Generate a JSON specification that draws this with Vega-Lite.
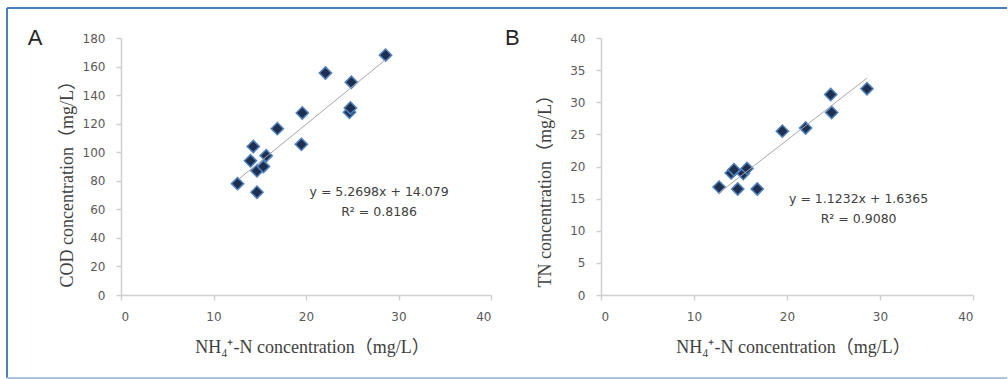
{
  "$schema": "https://vega.github.io/schema/vega-lite/v6.json",
  "padding": {"left": 6, "top": 7, "right": 0, "bottom": 0},
  "background": "white",
  "bounds": "flush",
  "spacing": 110,
  "config": {
    "view": {"stroke": null},
    "axis": {
      "grid": false,
      "labelOverlap": false,
      "tickCount": 20,
      "domainColor": "#d0d0d0",
      "domainWidth": 1.5,
      "tickColor": "#d0d0d0",
      "tickWidth": 1.5,
      "tickSize": 5,
      "labelColor": "#595959",
      "labelFont": "DejaVu Sans",
      "labelFontSize": 12,
      "labelPadding": 11,
      "titleFont": "Liberation Serif, Noto Sans CJK SC",
      "titleFontSize": 18,
      "titleFontWeight": "normal",
      "titleColor": "#404040"
    }
  },
  "datasets": {
    "cod": [
      {"nh4": 12.6, "cod": 78},
      {"nh4": 14.7, "cod": 72},
      {"nh4": 14.3, "cod": 104},
      {"nh4": 14.0, "cod": 94},
      {"nh4": 14.7, "cod": 87},
      {"nh4": 15.4, "cod": 90},
      {"nh4": 15.7, "cod": 97.6},
      {"nh4": 16.9, "cod": 116.5},
      {"nh4": 19.6, "cod": 127.5},
      {"nh4": 19.5, "cod": 105.5},
      {"nh4": 22.1, "cod": 155.5},
      {"nh4": 24.9, "cod": 149},
      {"nh4": 24.7, "cod": 128},
      {"nh4": 24.8, "cod": 131},
      {"nh4": 28.6, "cod": 168}
    ],
    "codFit": [
      {"nh4": 12.7, "cod": 81.0},
      {"nh4": 28.6, "cod": 164.8}
    ],
    "tn": [
      {"nh4": 12.7, "tn": 16.8},
      {"nh4": 14.7, "tn": 16.5},
      {"nh4": 14.0, "tn": 19.0},
      {"nh4": 14.3, "tn": 19.5},
      {"nh4": 15.3, "tn": 18.9},
      {"nh4": 15.7, "tn": 19.7},
      {"nh4": 16.8, "tn": 16.5},
      {"nh4": 19.5, "tn": 25.5},
      {"nh4": 22.0, "tn": 26.0},
      {"nh4": 24.8, "tn": 28.4},
      {"nh4": 24.7, "tn": 31.2},
      {"nh4": 28.6, "tn": 32.1}
    ],
    "tnFit": [
      {"nh4": 12.7, "tn": 15.9},
      {"nh4": 28.6, "tn": 33.76}
    ],
    "one": [{}]
  },
  "hconcat": [
    {
      "width": 370,
      "height": 257,
      "layer": [
        {
          "data": {"name": "cod"},
          "mark": {"type": "point", "shape": "diamond", "filled": true, "size": 150, "fill": "#1f2f4f", "stroke": "#4f81bd", "strokeWidth": 1.5, "opacity": 1},
          "encoding": {
            "x": {"field": "nh4", "type": "quantitative", "scale": {"domain": [0, 40], "nice": false},
                  "axis": {"values": [0, 10, 20, 30, 40], "tickCount": 20, "title": "NH₄⁺-N concentration（mg/L）", "titleX": 191, "titleY": 52, "titleAnchor": "middle", "titleBaseline": "middle"}},
            "y": {"field": "cod", "type": "quantitative", "scale": {"domain": [0, 180], "nice": false},
                  "axis": {"values": [0, 20, 40, 60, 80, 100, 120, 140, 160, 180], "tickCount": 20, "title": "COD concentration（mg/L）", "titleX": -54, "titleY": 249, "titleAnchor": "start", "titleBaseline": "middle", "titleAngle": -90}}
          }
        },
        {
          "data": {"name": "codFit"},
          "mark": {"type": "line", "color": "#a6a6a6", "strokeWidth": 1},
          "encoding": {
            "x": {"field": "nh4", "type": "quantitative"},
            "y": {"field": "cod", "type": "quantitative"}
          }
        },
        {
          "data": {"name": "one"},
          "mark": {"type": "text", "font": "DejaVu Sans", "fontSize": 12.5, "color": "#404040", "align": "center", "baseline": "middle"},
          "encoding": {"x": {"datum": 27.9}, "y": {"datum": 72.1}, "text": {"value": "y = 5.2698x + 14.079"}}
        },
        {
          "data": {"name": "one"},
          "mark": {"type": "text", "font": "DejaVu Sans", "fontSize": 12.5, "color": "#404040", "align": "center", "baseline": "middle"},
          "encoding": {"x": {"datum": 27.9}, "y": {"datum": 58.1}, "text": {"value": "R² = 0.8186"}}
        },
        {
          "data": {"name": "one"},
          "mark": {"type": "text", "font": "Liberation Sans", "fontSize": 22, "color": "#262626", "align": "center", "baseline": "middle"},
          "encoding": {"x": {"datum": -9.3}, "y": {"datum": 180}, "text": {"value": "A"}}
        },
        {
          "data": {"name": "one"},
          "mark": {"type": "rule", "color": "#4a7ebb", "strokeWidth": 2},
          "encoding": {"x": {"datum": -12.32}, "y": {"datum": -58.1}, "y2": {"datum": 201}}
        },
        {
          "data": {"name": "one"},
          "mark": {"type": "rule", "color": "#4a7ebb", "strokeWidth": 2},
          "encoding": {"x": {"datum": -12.32}, "x2": {"datum": 95.8}, "y": {"datum": 201}}
        },
        {
          "data": {"name": "one"},
          "mark": {"type": "rule", "color": "#a8c3e8", "strokeWidth": 2},
          "encoding": {"x": {"datum": -12.32}, "x2": {"datum": 95.8}, "y": {"datum": -58.1}}
        }
      ]
    },
    {
      "width": 372,
      "height": 257,
      "layer": [
        {
          "data": {"name": "tn"},
          "mark": {"type": "point", "shape": "diamond", "filled": true, "size": 150, "fill": "#1f2f4f", "stroke": "#4f81bd", "strokeWidth": 1.5, "opacity": 1},
          "encoding": {
            "x": {"field": "nh4", "type": "quantitative", "scale": {"domain": [0, 40], "nice": false},
                  "axis": {"values": [0, 10, 20, 30, 40], "tickCount": 20, "title": "NH₄⁺-N concentration（mg/L）", "titleX": 192, "titleY": 52, "titleAnchor": "middle", "titleBaseline": "middle"}},
            "y": {"field": "tn", "type": "quantitative", "scale": {"domain": [0, 40], "nice": false},
                  "axis": {"values": [0, 5, 10, 15, 20, 25, 30, 35, 40], "tickCount": 20, "title": "TN concentration（mg/L）", "titleX": -56, "titleY": 249, "titleAnchor": "start", "titleBaseline": "middle", "titleAngle": -90}}
          }
        },
        {
          "data": {"name": "tnFit"},
          "mark": {"type": "line", "color": "#a6a6a6", "strokeWidth": 1},
          "encoding": {
            "x": {"field": "nh4", "type": "quantitative"},
            "y": {"field": "tn", "type": "quantitative"}
          }
        },
        {
          "data": {"name": "one"},
          "mark": {"type": "text", "font": "DejaVu Sans", "fontSize": 12.5, "color": "#404040", "align": "center", "baseline": "middle"},
          "encoding": {"x": {"datum": 27.7}, "y": {"datum": 14.9}, "text": {"value": "y = 1.1232x + 1.6365"}}
        },
        {
          "data": {"name": "one"},
          "mark": {"type": "text", "font": "DejaVu Sans", "fontSize": 12.5, "color": "#404040", "align": "center", "baseline": "middle"},
          "encoding": {"x": {"datum": 27.7}, "y": {"datum": 11.84}, "text": {"value": "R² = 0.9080"}}
        },
        {
          "data": {"name": "one"},
          "mark": {"type": "text", "font": "Liberation Sans", "fontSize": 22, "color": "#262626", "align": "center", "baseline": "middle"},
          "encoding": {"x": {"datum": -9.54}, "y": {"datum": 40.05}, "text": {"value": "B"}}
        }
      ]
    }
  ]
}
